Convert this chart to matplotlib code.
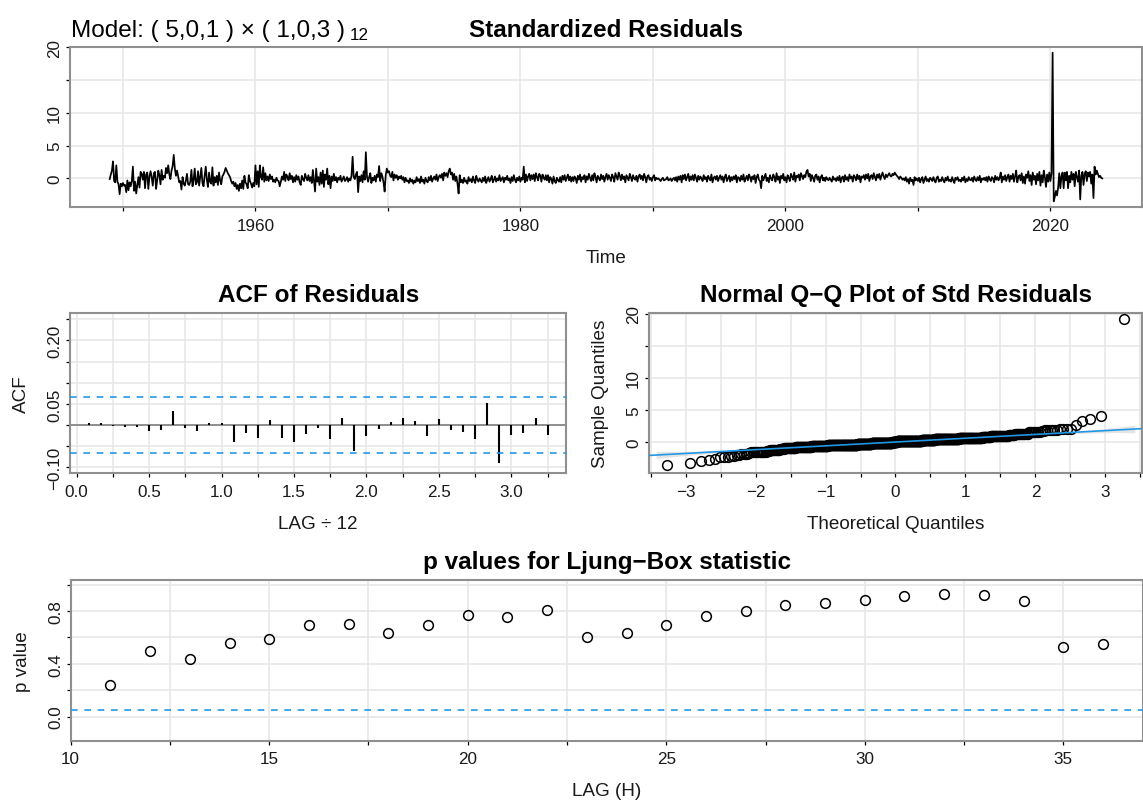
import numpy as np
import matplotlib
matplotlib.use("Agg")
import matplotlib.pyplot as plt
from matplotlib.transforms import offset_copy
from statistics import NormalDist

plt.rcParams['font.family'] = ['Liberation Sans', 'DejaVu Sans']

# ---------------- data ----------------
start_year = 1949          # monthly series, January 1949 .. December 2023
freq = 12

resid_1949_1958 = [
    -0.1, 0.6, 1.2, 2.6, -0.4, -0.6, 2.0, -0.5, -0.9, -2.4, -0.8, -1.2,
    -0.7, -1.1, -1.0, -2.1, -0.3, -1.8, -0.6, -1.2, -0.4, 1.8, -1.9, -0.5,
    -2.3, -1.0, 0.2, -1.4, 1.0, 0.7, -0.2, 1.0, -1.5, 0.6, 0.9, -1.6,
    0.3, 1.1, 0.2, -1.1, 0.8, 1.0, -1.6, -0.3, 1.2, 0.5, -0.9, 1.3,
    -0.2, 0.4, 0.1, 1.6, 0.8, 2.0, 0.6, -0.1, 1.2, 1.9, 3.6, 1.5,
    0.4, 1.2, 0.3, -0.6, -0.4, -1.7, 0.2, -0.8, -1.1, -0.3, 0.7, -0.9,
    -1.0, -0.5, 1.3, -1.2, -0.2, 1.5, -0.9, -0.6, 1.1, -1.1, 0.3, 1.6,
    -0.7, -1.2, 0.4, 1.8, -0.2, -1.3, 0.9, -0.5, -0.8, 1.7, -1.1, 0.2,
    -0.6, 0.4, -1.0, 0.9, -0.3, -0.9, 0.3, 0.6, 1.0, 1.6, 1.2, 0.8,
    0.5, 0.2, -0.4, -0.8, -0.5, -1.2, -0.7, -1.6, -1.0, -1.9, -0.8, -1.5,
]
resid_1959_1968 = [
    -0.3, -1.6, 0.4, -0.6, -0.9, -1.5, 0.5, -0.4, -0.8, -1.4, -0.7, -1.2,
    2.0, -0.9, 1.1, -1.3, 2.0, 0.2, -0.2, 1.7, -0.5, 0.8, -0.3, 0.3,
    -0.4, 0.6, -0.1, 0.3, -0.5, -0.2, -0.6, 0.1, -0.3, -0.4, -1.2, -0.5,
    0.3, -0.2, 1.0, -0.4, 0.6, 0.2, -0.3, 0.8, -0.1, 0.4, -0.6, 0.2,
    -0.5, 0.5, -0.2, 0.3, -0.6, -1.0, 0.4, -0.1, -0.4, 0.7, 0.1, -0.3,
    0.5, -0.4, 0.2, -0.7, 1.3, -0.3, -2.0, 1.5, -0.5, 0.2, -1.0, 0.9,
    -0.8, 1.2, -1.3, 0.6, -0.2, 1.5, -0.9, 0.4, -1.5, 0.3, -0.4, 0.7,
    -0.3, 0.2, -0.6, 0.1, -0.2, 0.4, -0.5, -0.1, 0.3, -0.4, -0.2, 0.2,
    -0.5, 0.0, -0.3, 0.4, 3.3, 0.2, -0.1, 0.6, 1.0, -2.1, 0.3, -0.4,
    0.5, -0.6, 1.1, -0.2, 4.0, 0.3, -0.5, 0.2, 0.8, -0.7, 0.1, -0.3,
]
resid_1969_1978 = [
    0.4, -0.5, 0.6, 0.2, 1.9, -0.4, 0.8, 0.3, -0.6, -2.0, 0.5, 1.5,
    0.9, 1.1, 0.4, 0.2, 1.0, -0.3, 0.6, 0.1, 0.5, -0.2, 0.3, 0.0,
    0.4, -0.2, 0.2, -0.6, 0.1, -0.4, -0.3, -0.7, 0.0, -0.5, -0.2, -0.8,
    -0.3, -0.6, 0.2, -0.4, -0.1, -0.7, 0.3, -0.5, -0.2, -0.8, 0.1, -0.4,
    -0.6, 0.2, -0.3, 0.4, -0.5, 0.0, 0.3, -0.2, 0.6, -0.4, 0.2, 0.5,
    0.1, 0.7, -0.3, 0.9, 0.4, 0.8, 0.2, 1.1, 1.5, 0.6, 0.9, -0.2,
    0.7, -0.4, 0.3, -0.8, -2.3, 0.5, -0.6, -0.2, -0.7, 0.1, -0.5, -0.3,
    -0.8, 0.2, -0.4, -0.1, -0.6, 0.3, -0.3, -0.7, 0.4, -0.2, -0.5, 0.0,
    -0.3, -0.6, 0.1, -0.4, 0.3, -0.7, -0.2, 0.2, -0.5, -0.1, 0.4, -0.6,
    -0.2, 0.3, -0.5, 0.0, -0.3, 0.5, -0.4, -0.1, 0.2, -0.6, 0.1, -0.2,
]
resid_1979_1988 = [
    0.4, -0.3, 0.0, -0.7, 0.2, -0.4, 0.5, -0.2, -0.6, 0.1, -0.3, 0.3,
    -0.5, 0.1, -0.2, 1.8, -0.6, 0.6, -0.4, 0.3, 0.7, -0.3, 0.5, -0.1,
    0.6, -0.4, 0.8, 0.2, -0.3, 0.7, 0.4, -0.5, 0.6, 0.1, -0.2, 0.5,
    -0.3, 0.5, -0.6, 0.2, -0.1, -0.8, 0.3, -0.4, -0.7, 0.1, -0.3, -0.5,
    0.2, -0.6, 0.4, -0.2, 0.5, -0.4, 0.1, 0.6, -0.3, 0.3, -0.5, 0.2,
    -0.4, 0.3, 0.0, -0.7, 0.4, -0.2, 0.6, -0.5, 0.2, -0.1, 0.5, -0.6,
    0.3, -0.2, 0.7, 0.1, -0.4, 0.5, -0.3, 0.8, 0.2, -0.6, 0.4, 0.0,
    -0.3, 0.6, -0.1, 0.4, -0.5, 0.2, 0.7, -0.2, 0.5, 0.1, -0.4, 0.6,
    0.2, -0.5, 0.8, 0.3, -0.2, 0.9, 0.4, -0.3, 0.6, -0.1, 0.3, -0.6,
    0.5, 0.1, -0.3, 0.7, 0.2, -0.4, 0.5, 0.0, -0.2, 0.4, -0.5, 0.3,
]
resid_1989_1998 = [
    0.6, -0.1, 0.4, -0.3, 0.7, 0.2, -0.6, 0.3, 0.5, -0.2, 0.1, -0.4,
    0.2, 0.5, -0.3, 0.1, -0.1, 0.0, -0.2, -0.4, -0.1, 0.1, -0.3, -0.2,
    -0.1, 0.2, -0.3, -0.2, 0.0, -0.4, -0.1, 0.1, -0.3, 0.2, -0.5, 0.3,
    -0.2, 0.4, -0.6, 0.5, -0.1, 0.6, -0.3, 0.2, 0.7, -0.4, 0.3, -0.2,
    0.5, -0.3, 0.6, 0.1, -0.5, 0.4, -0.2, 0.3, 0.0, -0.4, 0.5, -0.1,
    0.2, -0.5, 0.4, 0.0, -0.3, 0.6, -0.6, 0.1, 0.3, -0.2, 0.4, -0.4,
    0.1, 0.5, -0.2, 0.3, -0.6, 0.2, 0.6, -0.4, 0.0, 0.4, -0.5, 0.2,
    -0.3, 0.3, -0.1, 0.5, -0.6, 0.2, 0.1, -0.4, 0.4, -0.2, 0.6, -0.5,
    0.0, 0.4, -0.3, 0.6, 0.2, -0.5, 0.3, -0.1, 0.5, -0.7, 0.2, 0.6,
    -0.2, -0.4, -1.5, 0.4, -0.3, 0.2, 0.7, -0.4, 0.1, -0.6, 0.5, 0.0,
]
resid_1999_2008 = [
    -0.3, 0.6, 0.2, -0.5, 0.8, -0.2, 0.3, -0.7, 0.4, 0.0, 0.7, -0.3,
    0.2, -0.6, 0.5, 0.1, -0.4, 0.7, 0.3, -0.2, 0.9, -0.5, 0.4, 0.2,
    0.6, -0.3, 0.8, 0.4, -0.1, 0.5, 0.2, 1.0, 1.3, 0.3, 0.7, -0.4,
    0.5, 0.1, -0.5, 0.4, 0.6, -0.2, 0.3, -0.6, 0.2, 0.5, -0.3, 0.1,
    -0.4, 0.2, -0.1, -0.3, 0.1, -0.2, -0.5, 0.3, -0.2, 0.0, -0.4, 0.2,
    -0.3, 0.4, -0.6, 0.1, 0.3, -0.5, 0.5, -0.2, 0.2, -0.4, 0.6, 0.0,
    0.3, -0.5, 0.5, 0.2, -0.3, 0.6, -0.1, 0.4, -0.6, 0.3, 0.1, 0.5,
    -0.2, 0.6, 0.0, 0.7, -0.4, 0.3, 0.5, -0.1, 0.8, 0.2, -0.3, 0.6,
    0.1, 0.7, -0.2, 0.4, 0.9, 0.3, -0.1, 0.6, 0.2, 0.5, 0.8, 0.4,
    0.3, 0.7, 0.5, 0.9, 0.6, 0.4, 0.2, -0.1, 0.3, 0.1, -0.2, 0.0,
]
resid_2009_2018 = [
    -0.3, 0.2, -0.5, -0.1, -0.8, 0.1, -0.4, -0.2, -1.0, 0.2, -0.3, 0.0,
    -0.4, 0.1, -0.6, -0.1, 0.2, -0.7, -0.2, 0.3, -0.4, -0.1, -0.5, 0.1,
    -0.1, -0.4, 0.2, -0.3, -0.6, 0.1, 0.3, -0.5, -0.2, -0.4, 0.2, -0.3,
    -0.6, 0.1, -0.3, 0.3, -0.4, -0.2, -0.5, 0.2, -0.3, -0.7, 0.1, -0.2,
    0.2, -0.4, -0.2, -0.5, 0.1, -0.3, 0.3, -0.6, -0.1, -0.4, 0.2, -0.2,
    -0.3, 0.1, -0.5, 0.3, -0.2, -0.4, 0.2, -0.3, 0.4, -0.6, 0.0, -0.2,
    0.1, -0.3, 0.2, -0.5, 0.3, -0.1, -0.4, 0.2, 0.0, -0.6, 0.4, -0.2,
    0.2, -0.3, 0.1, 0.9, -0.6, 0.3, -0.2, 0.5, -0.4, 0.2, 0.6, -0.5,
    0.4, -0.1, 0.7, -0.5, 0.3, 1.2, -0.6, 0.2, 0.5, -0.3, 0.8, -0.7,
    0.3, -0.8, 0.6, 0.1, 1.1, -0.4, 0.5, -1.0, 0.9, -0.2, 0.4, -0.9,
]
resid_2019_2023 = [
    0.7, -0.3, 1.0, -1.1, 0.5, -0.6, 1.2, 0.2, -1.3, 0.6, -0.5, 0.9,
    -0.4, 0.8, 19.2, -3.5, -2.8, -1.9, -2.6, -1.4, 0.8, -1.5, 0.3, 0.9,
    -1.5, 0.9, -0.3, 1.0, -1.5, 0.4, -0.6, 1.0, -0.2, 0.7, -1.2, 1.0,
    0.2, -0.5, 1.2, -3.2, 0.4, 1.0, -1.0, 0.7, 1.1, -0.4, 0.9, 0.3,
    1.0, -0.8, 0.6, -3.0, 1.8, 0.6, 1.2, 0.7, 0.2, 0.4, 0.1, 0.0,
]

acf_lags = list(range(1, 40))
acf_values = [
    0.004, 0.004, -0.003, -0.004, -0.005, -0.015, -0.011, 0.033, -0.007, -0.014,
    0.005, 0.004, -0.040, -0.019, -0.030, 0.012, -0.031, -0.041, -0.021, -0.008,
    -0.034, 0.016, -0.062, -0.026, -0.009, 0.007, 0.017, 0.010, -0.025, 0.015,
    -0.012, -0.017, -0.033, 0.051, -0.090, -0.024, -0.019, 0.016, -0.024,
]

lb_lags = list(range(11, 37))
lb_pvalues = [
    0.24, 0.50, 0.435, 0.555, 0.586, 0.698, 0.703, 0.632, 0.693, 0.769,
    0.754, 0.808, 0.601, 0.632, 0.698, 0.759, 0.803, 0.843, 0.859, 0.887,
    0.912, 0.930, 0.925, 0.876, 0.525, 0.550,
]

model_text = "Model: ( 5,0,1 ) \u00d7 ( 1,0,3 )"
model_sub = "12"

# ---------------- figure ----------------
W, H = 1143, 804
fig = plt.figure(figsize=(W / 100, H / 100), dpi=100)

BLUE = "#2297E6"
GRID = "#e6e6e6"
FRAME = "#8f8f8f"
TXT = "#1a1a1a"


def add_ax(l, r, t, b):
    return fig.add_axes([l / W, (H - b) / H, (r - l) / W, (b - t) / H])


def style(ax, l, r, t, b, xlabel, ylabel, title, title_off):
    for s in ax.spines.values():
        s.set_color(FRAME)
        s.set_linewidth(1.5)
    ax.tick_params(direction="out", length=2.6, width=0.9, color="black",
                   labelsize=12.3, labelcolor=TXT)
    ax.tick_params(axis="x", pad=5)
    ax.tick_params(axis="y", pad=3)
    ax.grid(True, color=GRID, lw=1.1)
    ax.set_axisbelow(True)
    wpx, hpx = r - l, b - t
    ax.set_xlabel(xlabel, fontsize=13.6, color=TXT)
    ax.xaxis.label.set_va("center")
    ax.xaxis.set_label_coords(0.5, -50 / hpx)
    ax.set_ylabel(ylabel, fontsize=13.6, color=TXT)
    ax.yaxis.label.set_va("center")
    ax.yaxis.label.set_ha("center")
    ax.yaxis.set_label_coords(-48.5 / wpx, 0.5)
    tr = offset_copy(ax.transAxes, fig=fig, y=title_off * 0.72, units="points")
    ax.text(0.5, 1.0, title, transform=tr, ha="center", va="baseline",
            fontsize=17.5, fontweight="bold", color="black")


def set_ticks(ax, axis, ticks, labelled, fmt):
    labels = [(fmt.format(v).replace("-", "\u2212") if any(abs(v - u) < 1e-9 for u in labelled) else "")
              for v in ticks]
    if axis == "x":
        ax.set_xticks(ticks, labels=labels)
    else:
        ax.set_yticks(ticks, labels=labels, rotation=90, va="center")


# ---- panel 1: standardized residuals ----
resid = np.array(resid_1949_1958 + resid_1959_1968 + resid_1969_1978 + resid_1979_1988
                 + resid_1989_1998 + resid_1999_2008 + resid_2009_2018 + resid_2019_2023)
n = len(resid)
time = start_year + np.arange(n) / freq

l, r, t, b = 70, 1142, 47.7, 208.3
ax1 = add_ax(l, r, t, b)
ax1.plot(time, resid, color="black", lw=1.25)
pad = 0.04 * (time[-1] - time[0])
ax1.set_xlim(time[0] - pad, time[-1] + pad)
pady = 0.04 * (resid.max() - resid.min())
ax1.set_ylim(resid.min() - pady, resid.max() + pady)
set_ticks(ax1, "x", [1950, 1960, 1970, 1980, 1990, 2000, 2010, 2020], [1960, 1980, 2000, 2020], "{:.0f}")
set_ticks(ax1, "y", [0, 5, 10, 15, 20], [0, 5, 10, 20], "{:.0f}")
style(ax1, l, r, t, b, "Time", "", "Standardized Residuals", 10.5)

# model annotation
mt = fig.text(71 / W, 1 - 37 / H, model_text, fontsize=17.5, va="baseline", ha="left", color="black")
fig.canvas.draw()
bb = mt.get_window_extent()
fig.text((bb.x1 + 5) / W, 1 - 40 / H, model_sub, fontsize=12.3, va="baseline", ha="left", color="black")

# ---- panel 2: ACF ----
l, r, t, b = 70.3, 566, 314.3, 474.3
ax2 = add_ax(l, r, t, b)
lagx = np.array(acf_lags) / freq
ax2.axhline(0, color="#808080", lw=1.2, zorder=2)
ax2.vlines(lagx, 0, acf_values, color="black", lw=1.5, zorder=3)
ci = 2 / np.sqrt(n)
for yv in (ci, -ci):
    ax2.axhline(yv, color=BLUE, lw=1.2, dashes=(4, 4), zorder=3)
pad = 0.04 * (lagx[-1] - lagx[0])
ax2.set_xlim(lagx[0] - pad, lagx[-1] + pad)
ax2.set_ylim(-0.1 - 0.014, 0.25 + 0.014)
set_ticks(ax2, "x", list(np.arange(0, 3.26, 0.25)), [0, 0.5, 1.0, 1.5, 2.0, 2.5, 3.0], "{:.1f}")
set_ticks(ax2, "y", list(np.round(np.arange(-0.10, 0.251, 0.05), 2)), [-0.10, 0.05, 0.20], "{:.2f}")
style(ax2, l, r, t, b, "LAG \u00f7 12", "ACF", "ACF of Residuals", 12)

# ---- panel 3: Normal Q-Q ----
l, r, t, b = 649, 1142, 314.3, 474.3
ax3 = add_ax(l, r, t, b)
nd = NormalDist()
probs = (np.arange(1, n + 1) - 0.5) / n
theo = np.array([nd.inv_cdf(p) for p in probs])
samp = np.sort(resid)
q_y = np.quantile(resid, [0.25, 0.75])
q_x = np.array([nd.inv_cdf(0.25), nd.inv_cdf(0.75)])
slope = (q_y[1] - q_y[0]) / (q_x[1] - q_x[0])
inter = q_y[0] - slope * q_x[0]
zz = np.linspace(-3.42, 3.42, 200)
pz = np.array([nd.cdf(z) for z in zz])
dz = np.array([nd.pdf(z) for z in zz])
se = slope * np.sqrt(pz * (1 - pz) / n) / dz
ax3.fill_between(zz, inter + slope * zz - 1.96 * se, inter + slope * zz + 1.96 * se,
                 color="#d9d9d9", alpha=0.7, lw=0, zorder=2)
ax3.plot(theo, samp, "o", mfc="none", mec="black", ms=7.0, mew=1.1, zorder=3)
xx = np.array([-4, 4])
ax3.plot(xx, inter + slope * xx, color=BLUE, lw=1.2, zorder=4)
pad = 0.04 * (theo[-1] - theo[0])
ax3.set_xlim(theo[0] - pad, theo[-1] + pad)
ax3.set_ylim(-4.87, 20.05)
set_ticks(ax3, "x", list(np.arange(-3.5, 3.51, 0.5)), [-3, -2, -1, 0, 1, 2, 3], "{:.0f}")
set_ticks(ax3, "y", [0, 5, 10, 15, 20], [0, 5, 10, 20], "{:.0f}")
style(ax3, l, r, t, b, "Theoretical Quantiles", "Sample Quantiles", "Normal Q\u2212Q Plot of Std Residuals", 12)

# ---- panel 4: Ljung-Box ----
l, r, t, b = 70.7, 1142.7, 580.7, 741.7
ax4 = add_ax(l, r, t, b)
ax4.plot(lb_lags, lb_pvalues, "o", mfc="none", mec="black", ms=7.0, mew=1.1, zorder=3)
ax4.axhline(0.05, color=BLUE, lw=1.2, dashes=(4, 4), zorder=3)
pad = 0.04 * (lb_lags[-1] - lb_lags[0])
ax4.set_xlim(lb_lags[0] - pad, lb_lags[-1] + pad)
ax4.set_ylim(-0.183, 1.038)
set_ticks(ax4, "x", list(np.arange(10, 35.1, 2.5)), [10, 15, 20, 25, 30, 35], "{:.0f}")
set_ticks(ax4, "y", [0, 0.2, 0.4, 0.6, 0.8, 1.0], [0, 0.4, 0.8], "{:.1f}")
style(ax4, l, r, t, b, "LAG (H)", "p value", "p values for Ljung\u2212Box statistic", 12)

fig.savefig("out.png", dpi=100)
